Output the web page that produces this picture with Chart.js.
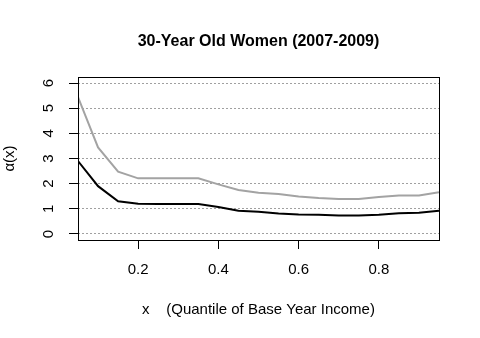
<!DOCTYPE html>
<html>
<head>
<meta charset="utf-8">
<script src="https://cdn.jsdelivr.net/npm/chart.js@4"></script>
<style>
  body { margin: 0; background: #fff; }
  #wrap { width: 480px; height: 338px; }
</style>
</head>
<body>
<div id="wrap"><canvas id="myChart" width="480" height="338"></canvas></div>
<script>
var quantiles = [0.05, 0.10, 0.15, 0.20, 0.25, 0.30, 0.35, 0.40, 0.45, 0.50,
                 0.55, 0.60, 0.65, 0.70, 0.75, 0.80, 0.85, 0.90, 0.95];
var upperBand = [5.44, 3.44, 2.48, 2.21, 2.21, 2.21, 2.21, 1.97, 1.75, 1.64,
                 1.59, 1.49, 1.43, 1.39, 1.39, 1.47, 1.53, 1.53, 1.66];
var estimate  = [2.90, 1.90, 1.30, 1.20, 1.19, 1.19, 1.19, 1.07, 0.92, 0.88,
                 0.81, 0.77, 0.76, 0.73, 0.73, 0.76, 0.82, 0.84, 0.92];
var xTicks = [0.2, 0.4, 0.6, 0.8];
var yTicks = [0, 1, 2, 3, 4, 5, 6];
var titleText = '30-Year Old Women (2007-2009)';

var font = "'Liberation Sans', Arial, sans-serif";

function pts(ys) {
  return quantiles.map(function (x, i) { return { x: x, y: ys[i] }; });
}

// R-style plot: box, title centred over the plot region, rotated y tick labels
var rStyle = {
  id: 'rStyle',
  beforeDraw: function (chart) {
    var c = chart.ctx;
    c.save();
    c.fillStyle = '#fff';
    c.fillRect(0, 0, chart.width, chart.height);
    c.restore();
  },
  afterDraw: function (chart) {
    var c = chart.ctx, a = chart.chartArea, ys = chart.scales.y;
    c.save();
    c.strokeStyle = '#000';
    c.lineWidth = 1;
    c.strokeRect(Math.round(a.left) + 0.5, Math.round(a.top) + 0.5,
                 Math.round(a.right - a.left), Math.round(a.bottom - a.top));
    c.fillStyle = '#000';
    c.textAlign = 'center';
    c.textBaseline = 'middle';
    c.font = 'bold 16px ' + font;
    c.fillText(titleText, (a.left + a.right) / 2, 42);
    c.font = '15px ' + font;
    ys.ticks.forEach(function (t) {
      c.save();
      c.translate(49, ys.getPixelForValue(t.value));
      c.rotate(-Math.PI / 2);
      c.fillText(String(t.value), 0, 0);
      c.restore();
    });
    c.restore();
  }
};

var ctx = document.getElementById('myChart').getContext('2d');
var myChart = new Chart(ctx, {
  type: 'line',
  data: {
    datasets: [{
      data: pts(upperBand),
      borderColor: '#a3a3a3',
      borderWidth: 2,
      pointRadius: 0,
      fill: false,
      tension: 0
    }, {
      data: pts(estimate),
      borderColor: '#000000',
      borderWidth: 2,
      pointRadius: 0,
      fill: false,
      tension: 0
    }]
  },
  options: {
    responsive: false,
    animation: false,
    layout: { padding: { left: 0, right: 41, top: 77, bottom: 0 } },
    plugins: {
      legend: { display: false },
      tooltip: { enabled: false },
      title: { display: false }
    },
    scales: {
      x: {
        type: 'linear',
        min: 0.05,
        max: 0.95,
        afterBuildTicks: function (s) { s.ticks = xTicks.map(function (v) { return { value: v }; }); },
        afterFit: function (s) { s.height = 98; },
        border: { display: false },
        grid: { drawOnChartArea: false, drawTicks: true, tickLength: 9, tickColor: '#000', tickWidth: 1 },
        ticks: {
          color: '#000',
          font: { family: font, size: 15 },
          padding: 12,
          maxRotation: 0,
          callback: function (v) { return v.toFixed(1); }
        },
        title: {
          display: true,
          text: 'x    (Quantile of Base Year Income)',
          color: '#000',
          font: { family: font, size: 15 },
          padding: { top: 0, bottom: 19 }
        }
      },
      y: {
        type: 'linear',
        min: -0.24,
        max: 6.24,
        afterBuildTicks: function (s) { s.ticks = yTicks.map(function (v) { return { value: v }; }); },
        afterFit: function (s) { s.width = 78; },
        border: { display: false, dash: [2, 2] },
        grid: { color: '#a0a0a0', lineWidth: 1, drawTicks: true, tickLength: 9,
                tickColor: '#000', tickWidth: 1, tickBorderDash: [] },
        ticks: { display: false },
        title: {
          display: true,
          text: 'α(x)',
          color: '#000',
          font: { family: font, size: 15 },
          padding: { top: 1, bottom: 0 }
        }
      }
    }
  },
  plugins: [rStyle]
});
</script>
</body>
</html>
